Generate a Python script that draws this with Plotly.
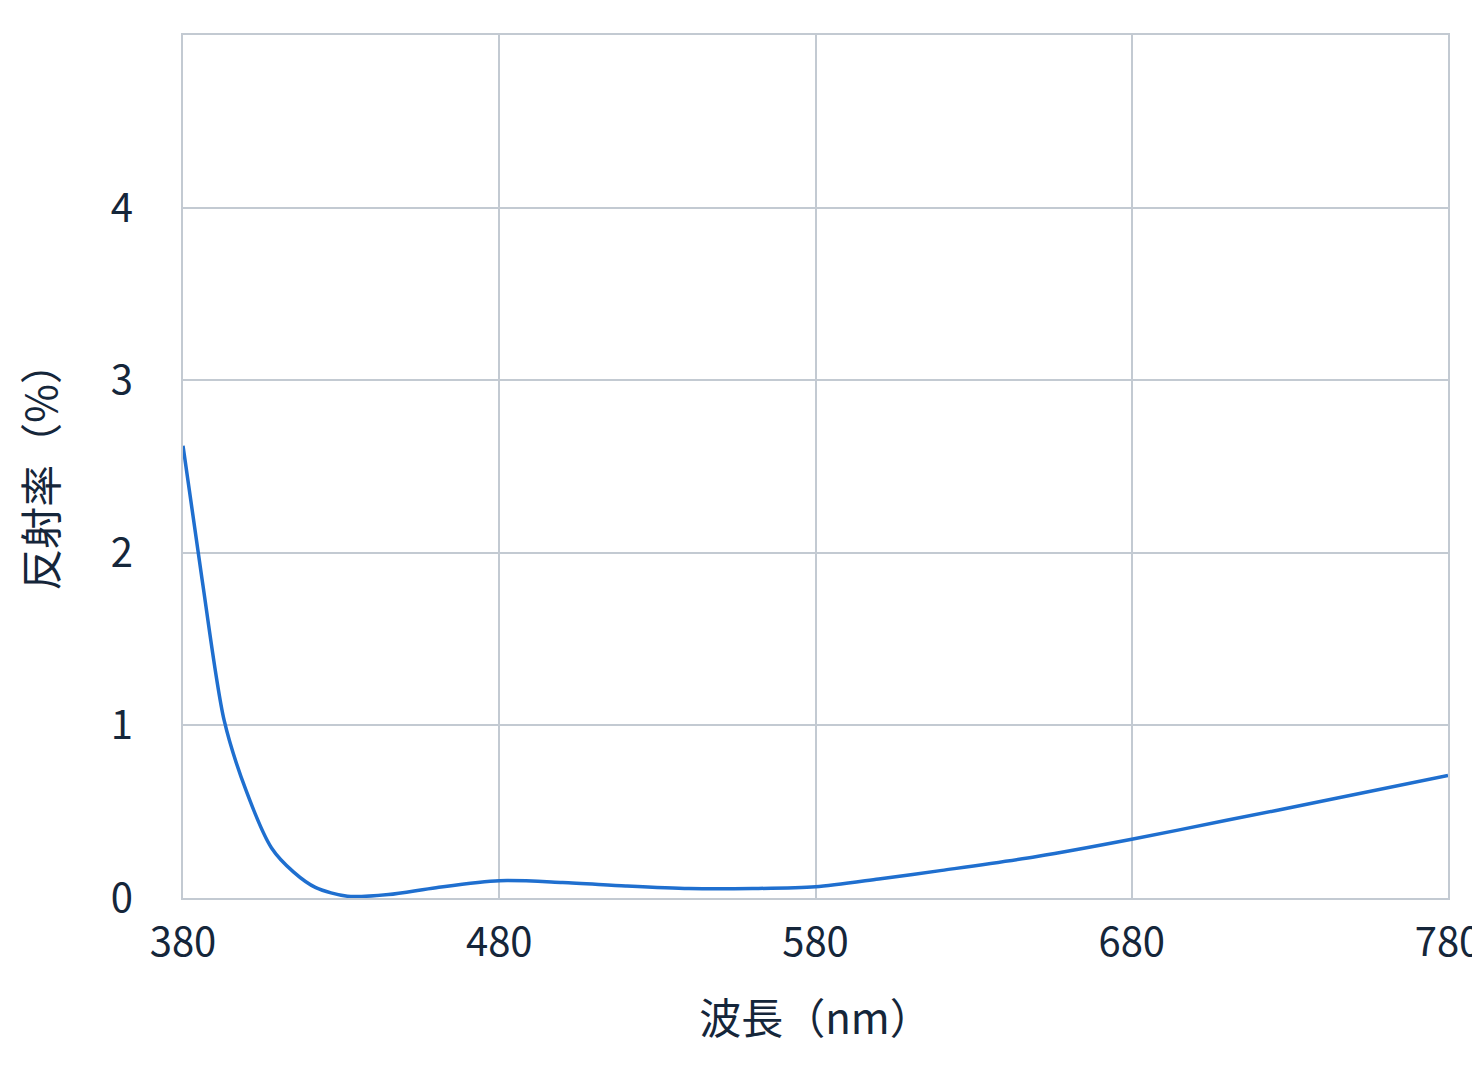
import plotly.graph_objects as go

wavelength = [380, 386, 393, 400, 408, 415, 422, 432, 445, 460, 480, 500, 520, 540, 560, 580, 600, 620, 650, 680, 710, 740, 780]
reflectance = [2.62, 1.85, 1.03, 0.62, 0.29, 0.15, 0.06, 0.01, 0.02, 0.06, 0.10, 0.09, 0.07, 0.055, 0.055, 0.065, 0.11, 0.16, 0.24, 0.34, 0.45, 0.56, 0.71]

font = "Noto Sans CJK JP"
ink = "#15263a"
grid = "#c3cad2"

fig = go.Figure(go.Scatter(
    x=wavelength, y=reflectance, mode="lines",
    line=dict(color="#1f6fcf", width=3.5, shape="spline", smoothing=0.8),
))

fig.update_xaxes(
    range=[380, 780], tickvals=[380, 480, 580, 680, 780],
    showgrid=True, gridcolor=grid, gridwidth=1.5, automargin=False,
    showline=True, linecolor=grid, linewidth=2, mirror=True, zeroline=False,
    tickfont=dict(size=40, color=ink), ticks="outside", ticklen=8, tickcolor="rgba(0,0,0,0)",
    title=dict(text="波長（nm）", font=dict(size=42, color=ink), standoff=38),
)
fig.update_yaxes(
    range=[0, 5], tickvals=[0, 1, 2, 3, 4, 5],
    showgrid=True, gridcolor=grid, gridwidth=1.5, automargin=False,
    showline=True, linecolor=grid, linewidth=2, mirror=True, zeroline=False,
    tickfont=dict(size=40, color=ink), ticks="outside", ticklen=40, tickcolor="rgba(0,0,0,0)",
    title=dict(text="反射率（%）", font=dict(size=42, color=ink), standoff=55),
)
fig.update_layout(
    width=1480, height=1081,
    margin=dict(l=175, r=40, t=27, b=191),
    plot_bgcolor="white", paper_bgcolor="white",
    font=dict(family=font, color=ink),
    showlegend=False,
)

fig.write_html("out.html")
